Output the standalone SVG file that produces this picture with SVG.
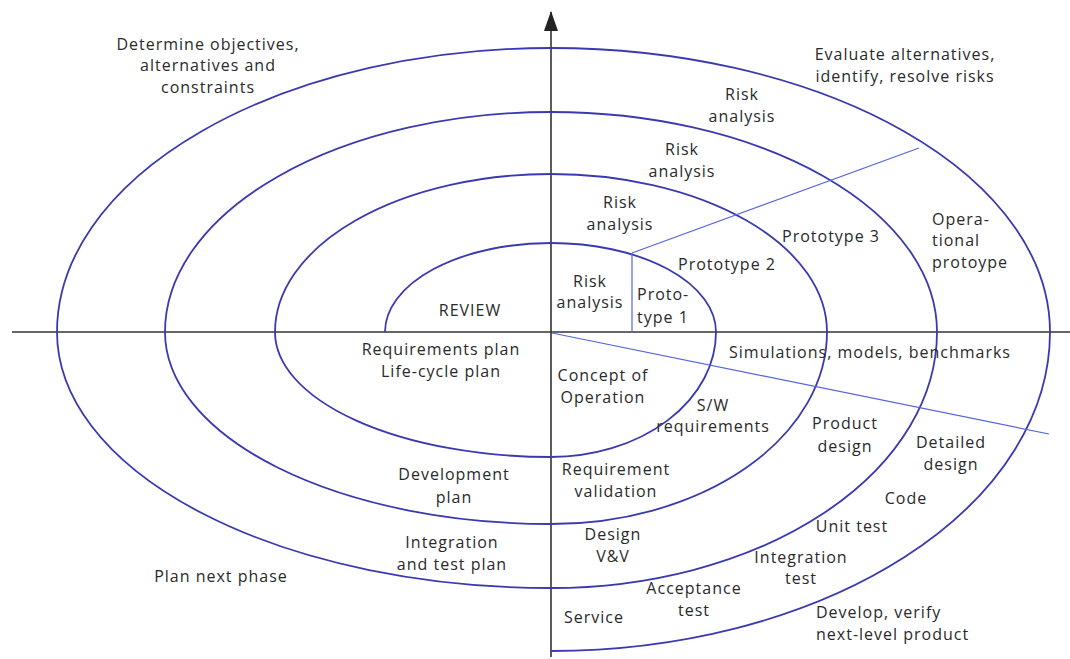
<svg xmlns="http://www.w3.org/2000/svg" width="1070" height="659" viewBox="0 0 1070 659">
<defs>
<marker id="arr" viewBox="0 0 20 14" refX="19" refY="7" markerWidth="20" markerHeight="14" markerUnits="userSpaceOnUse" orient="auto">
<path d="M0 0 L20 7 L0 14 Z" fill="#222"/>
</marker>
<style>
.t{font-family:"Open Sans","Noto Sans",sans-serif;font-size:16px;letter-spacing:1px;fill:#2a2a2a;text-anchor:middle}
.l{text-anchor:start}
.axis{stroke:#333;stroke-width:1.6;fill:none}
.sp{stroke:#3a3ab0;stroke-width:1.8;fill:none}
.dl{stroke:#5566dd;stroke-width:1.2;fill:none}
</style>
</defs>
<rect width="1070" height="659" fill="#fff"/>
<g id="axes">
<line class="axis" x1="12" y1="332" x2="1070" y2="332"/>
<line class="axis" x1="551" y1="657" x2="551" y2="12" marker-end="url(#arr)"/>
</g>
<g id="spiral">
<path class="sp" d="M385 332 A166 89 0 0 1 551 243 A165 89 0 0 1 716 332 A165 125 0 0 1 551 457 A276 125 0 0 1 275 332 A276 158 0 0 1 551 174 A276 158 0 0 1 827 332 A276 192 0 0 1 551 524 A386 192 0 0 1 165 332 A386 220 0 0 1 551 112 A386 220 0 0 1 937 332 A386 256 0 0 1 551 588 A494 256 0 0 1 57 332 A494 284 0 0 1 551 48 A499 284 0 0 1 1050 332 A499 319 0 0 1 551 651"/>
</g>
<g id="connectors">
<line class="dl" x1="632" y1="253" x2="632" y2="332"/>
<line class="dl" x1="632" y1="253" x2="919" y2="148"/>
<line class="dl" x1="552" y1="333" x2="1049" y2="434"/>
</g>
<g id="labels">
<g id="q1"><text class="t" x="208" y="50">Determine objectives,</text><text class="t" x="208" y="71">alternatives and</text><text class="t" x="208" y="93">constraints</text></g>
<g id="q2"><text class="t" x="905" y="60">Evaluate alternatives,</text><text class="t" x="905" y="82">identify, resolve risks</text></g>
<g id="ra4"><text class="t" x="742" y="100">Risk</text><text class="t" x="742" y="122">analysis</text></g>
<g id="ra3"><text class="t" x="682" y="155">Risk</text><text class="t" x="682" y="177">analysis</text></g>
<g id="ra2"><text class="t" x="620" y="208">Risk</text><text class="t" x="620" y="230">analysis</text></g>
<g id="ra1"><text class="t" x="590" y="287">Risk</text><text class="t" x="590" y="308">analysis</text></g>
<g id="p1"><text class="t l" x="637" y="300">Proto-</text><text class="t l" x="637" y="323">type 1</text></g>
<g id="p2"><text class="t" x="727" y="270">Prototype 2</text></g>
<g id="p3"><text class="t" x="831" y="242">Prototype 3</text></g>
<g id="op"><text class="t l" x="932" y="225">Opera-</text><text class="t l" x="932" y="246">tional</text><text class="t l" x="932" y="268">protoype</text></g>
<g id="review"><text class="t" x="470" y="316">REVIEW</text></g>
<g id="req"><text class="t" x="441" y="355">Requirements plan</text><text class="t" x="441" y="377">Life-cycle plan</text></g>
<g id="dev"><text class="t" x="454" y="480">Development</text><text class="t" x="454" y="503">plan</text></g>
<g id="itp"><text class="t" x="452" y="548">Integration</text><text class="t" x="452" y="570">and test plan</text></g>
<g id="pnp"><text class="t" x="221" y="582">Plan next phase</text></g>
<g id="sim"><text class="t" x="870" y="358">Simulations, models, benchmarks</text></g>
<g id="coo"><text class="t" x="603" y="381">Concept of</text><text class="t" x="603" y="403">Operation</text></g>
<g id="swr"><text class="t" x="713" y="411">S/W</text><text class="t" x="713" y="432">requirements</text></g>
<g id="pd"><text class="t" x="845" y="429">Product</text><text class="t" x="845" y="452">design</text></g>
<g id="dd"><text class="t" x="951" y="448">Detailed</text><text class="t" x="951" y="470">design</text></g>
<g id="rv"><text class="t" x="616" y="475">Requirement</text><text class="t" x="616" y="497">validation</text></g>
<g id="code"><text class="t" x="906" y="504">Code</text></g>
<g id="ut"><text class="t" x="852" y="532">Unit test</text></g>
<g id="dvv"><text class="t" x="613" y="540">Design</text><text class="t" x="613" y="562">V&amp;V</text></g>
<g id="it"><text class="t" x="801" y="563">Integration</text><text class="t" x="801" y="584">test</text></g>
<g id="at"><text class="t" x="694" y="594">Acceptance</text><text class="t" x="694" y="616">test</text></g>
<g id="svc"><text class="t" x="594" y="623">Service</text></g>
<g id="dvp"><text class="t l" x="816" y="618">Develop, verify</text><text class="t l" x="816" y="640">next-level product</text></g>
</g>
</svg>
